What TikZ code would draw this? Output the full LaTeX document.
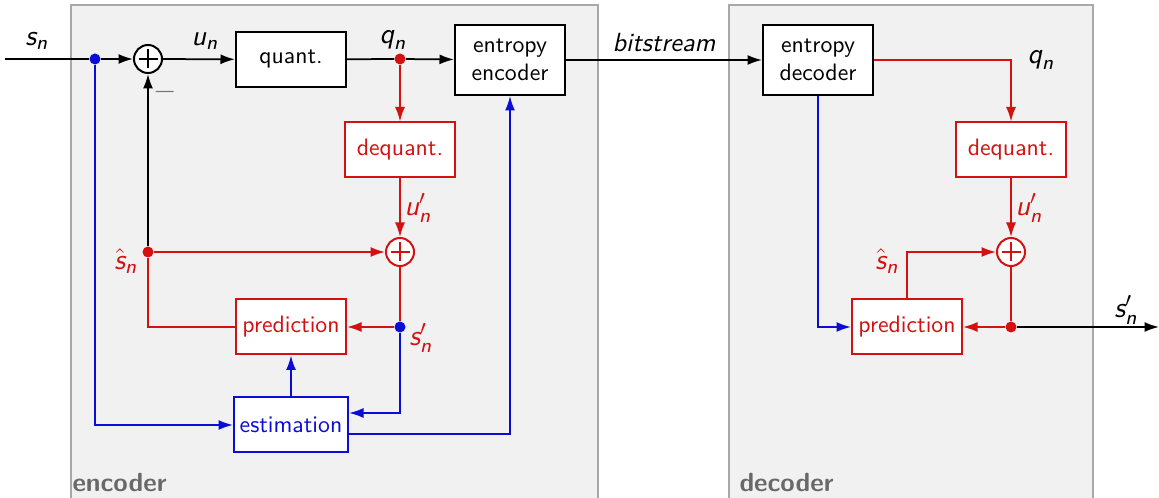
\documentclass[tikz,border=0pt]{standalone}
\usepackage{amsmath}
\usepackage{tikz}
\usetikzlibrary{arrows.meta}
\definecolor{dpcmred}{RGB}{212,16,16}
\definecolor{dpcmblue}{RGB}{12,12,216}
\definecolor{dpcmpanel}{RGB}{241,241,241}
\definecolor{dpcmframe}{RGB}{168,168,168}
\definecolor{dpcmtitle}{RGB}{105,105,105}
\newcommand{\dpcmfont}{\linespread{1}\fontsize{9.5}{11}\selectfont\sffamily}
\newcommand{\dpcmlabelfont}{\linespread{1}\fontsize{11.5}{13}\selectfont\sffamily}
\newcommand{\dpcmsym}[1]{\textit{#1}}
\tikzset{
    dpcm/chart/.style={font=\dpcmfont, x=0.4pt, y=-0.4pt, every node/.style={align=center}},
    dpcm/panel/.style={rectangle, fill=dpcmpanel, draw=dpcmframe, line width=0.6pt},
    dpcm/title/.style={font=\bfseries\fontsize{10.5}{12}\selectfont\sffamily, text=dpcmtitle, anchor=base west, inner sep=0pt},
    dpcm/block/.style={rectangle, draw=black, fill=white, line width=0.8pt, minimum width=44pt, minimum height=22pt, inner sep=2pt},
    dpcm/wideblock/.style={dpcm/block, minimum height=28pt, font=\linespread{0.95}\dpcmfont},
    dpcm/redblock/.style={dpcm/block, draw=dpcmred, text=dpcmred},
    dpcm/blueblock/.style={dpcm/block, draw=dpcmblue, text=dpcmblue, minimum width=45.6pt},
    dpcm/sum/.style={circle, draw=#1, fill=white, line width=0.8pt, minimum size=11.2pt, inner sep=0pt,
        path picture={\draw[#1, line width=0.45pt]
            ([xshift=-3.8pt]path picture bounding box.center) -- ([xshift=3.8pt]path picture bounding box.center)
            ([yshift=-3.8pt]path picture bounding box.center) -- ([yshift=3.8pt]path picture bounding box.center);}},
    dpcm/sum/.default=black,
    dpcm/dot/.style={circle, fill=#1, minimum size=4.4pt, inner sep=0pt},
    dpcm/line/.style={line width=0.7pt, draw=#1},
    dpcm/line/.default=black,
    dpcm/arrow/.style={dpcm/line=#1, -{Latex[length=5.8pt,width=4pt]}},
    dpcm/arrow/.default=black,
    dpcm/label/.style={font=\dpcmlabelfont, inner sep=1.5pt}
}

\begin{document}
\begin{tikzpicture}[dpcm/chart]
    \useasboundingbox (0,0) rectangle (1159,498);
    % panels
    \draw[dpcm/panel] (71,5) rectangle (598,510);
    \draw[dpcm/panel] (729,5) rectangle (1093,510);
    \node[dpcm/title] (enctitle) at (72,492) {encoder};
    \node[dpcm/title] (dectitle) at (739,492) {decoder};
    % encoder
    \coordinate (in) at (5,59);
    \node[dpcm/dot=dpcmblue] (split) at (95,59) {};
    \node[dpcm/sum] (sumA) at (148,59) {};
    \node[dpcm/block] (quant) at (291,59.5) {quant.};
    \node[dpcm/dot=dpcmred] (qdot) at (400,59) {};
    \node[dpcm/wideblock] (entenc) at (510,60) {entropy\\encoder};
    \node[dpcm/redblock] (dequant) at (400,150) {dequant.};
    \node[dpcm/sum=dpcmred] (sumB) at (400,252) {};
    \node[dpcm/dot=dpcmred] (hatdot) at (148,252) {};
    \node[dpcm/redblock] (pred) at (291,327) {prediction};
    \node[dpcm/dot=dpcmblue] (recdot) at (400,327) {};
    \node[dpcm/blueblock] (estim) at (291,425) {estimation};
    % decoder
    \node[dpcm/wideblock] (entdec) at (818,60) {entropy\\decoder};
    \node[dpcm/redblock] (dequantD) at (1011,150) {dequant.};
    \node[dpcm/sum=dpcmred] (sumC) at (1011,252) {};
    \node[dpcm/redblock] (predD) at (907,327) {prediction};
    \node[dpcm/dot=dpcmred] (recdotD) at (1011,327) {};
    \coordinate (out) at (1159,327);
    % labels
    \node[dpcm/label] (lsn) at (37,41) {$\dpcmsym{s}_{\dpcmsym{n}}$};
    \node[dpcm/label] (lun) at (205,41) {$\dpcmsym{u}_{\dpcmsym{n}}$};
    \node[dpcm/label] (lqn) at (393,40) {$\dpcmsym{q}_{\dpcmsym{n}}$};
    \node[dpcm/label, text=black!55] (lminus) at (165,92) {$-$};
    \node[dpcm/label, text=dpcmred] (lhat) at (126,261) {$\hat{\dpcmsym{s}}_{\dpcmsym{n}}$};
    \node[dpcm/label, text=dpcmred] (lrec) at (421,338) {$\dpcmsym{s}'_{\dpcmsym{n}}$};
    \node[dpcm/label] (lqnD) at (1041,60) {$\dpcmsym{q}_{\dpcmsym{n}}$};
    \node[dpcm/label, text=dpcmred] (lhatD) at (887,261) {$\hat{\dpcmsym{s}}_{\dpcmsym{n}}$};
    \node[dpcm/label] (lrecD) at (1126,310) {$\dpcmsym{s}'_{\dpcmsym{n}}$};
    % connectors
    \draw[dpcm/line] (in) -- (split);
    \foreach \source/\target in {split/sumA,sumA/quant,qdot/entenc}
        \draw[dpcm/arrow] (\source) -- (\target);
    \draw[dpcm/line] (quant) -- (qdot);
    \draw[dpcm/arrow] (entenc) -- node[above, inner sep=3pt, font=\fontsize{10.5}{12}\selectfont\sffamily\itshape] {bitstream} (entdec);
    \draw[dpcm/arrow=dpcmred] (qdot) -- (dequant);
    \draw[dpcm/arrow=dpcmred] (dequant) -- node[dpcm/label, right, text=dpcmred] {$\dpcmsym{u}'_{\dpcmsym{n}}$} (sumB);
    \draw[dpcm/arrow] (hatdot) -- (sumA);
    \draw[dpcm/arrow=dpcmred] (hatdot) -- (sumB);
    \draw[dpcm/line=dpcmred] (hatdot) |- (pred);
    \draw[dpcm/line=dpcmred] (sumB) -- (recdot);
    \draw[dpcm/arrow=dpcmred] (recdot) -- (pred);
    \draw[dpcm/arrow=dpcmblue] (recdot) |- ([yshift=4.8pt]estim.east);
    \draw[dpcm/arrow=dpcmblue] (split) |- (estim);
    \draw[dpcm/arrow=dpcmblue] (estim) -- (pred);
    \draw[dpcm/arrow=dpcmblue] ([yshift=-3.6pt]estim.east) -| (entenc);
    \draw[dpcm/arrow=dpcmred] (entdec) -| (dequantD);
    \draw[dpcm/arrow=dpcmred] (dequantD) -- node[dpcm/label, right, text=dpcmred] {$\dpcmsym{u}'_{\dpcmsym{n}}$} (sumC);
    \draw[dpcm/arrow=dpcmred] (predD) |- (sumC);
    \draw[dpcm/line=dpcmred] (sumC) -- (recdotD);
    \draw[dpcm/arrow=dpcmred] (recdotD) -- (predD);
    \draw[dpcm/arrow] (recdotD) -- (out);
    \draw[dpcm/arrow=dpcmblue] (entdec) |- (predD);
\end{tikzpicture}
\end{document}
